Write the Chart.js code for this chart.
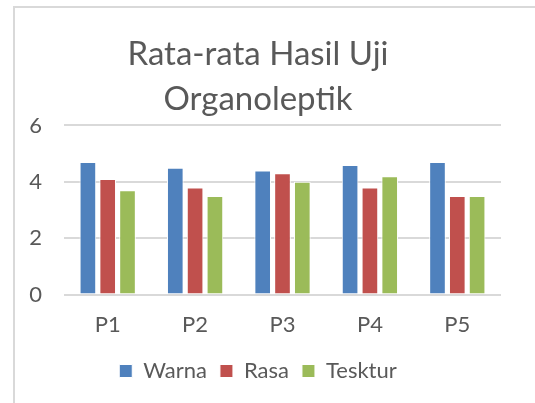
<!DOCTYPE html>
<html>
<head>
<meta charset="utf-8">
<script src="https://cdn.jsdelivr.net/npm/chart.js@4/dist/chart.umd.min.js"></script>
<style>
  html, body { margin: 0; padding: 0; background: #fff; }
  body { width: 535px; height: 403px; position: relative; overflow: hidden; }
  .frame {
    position: absolute; left: 13px; top: 6px; width: 530px; height: 410px;
    border-left: 2px solid #d9d9d9; border-top: 2px solid #d9d9d9;
  }
  .box { position: absolute; left: 15px; top: 8px; width: 520px; height: 395px; }
</style>
</head>
<body>
<div class="frame"></div>
<div class="box"><canvas id="chart"></canvas></div>
<script>
const categories = ['P1', 'P2', 'P3', 'P4', 'P5'];
const warna = [4.7, 4.5, 4.4, 4.6, 4.7];
const rasa = [4.1, 3.8, 4.3, 3.8, 3.5];
const tesktur = [3.7, 3.5, 4.0, 4.2, 3.5];
const yTicks = [0, 2, 4, 6];

const textColor = '#595959';
const fontFamily = 'Lato, "Open Sans", sans-serif';

const ctx = document.getElementById('chart').getContext('2d');

const chart = new Chart(ctx, {
    type: 'bar',
    data: {
        labels: categories,
        datasets: [
            { label: 'Warna', data: warna, backgroundColor: '#4f81bd', borderColor: '#ffffff', borderWidth: 1 },
            { label: 'Rasa', data: rasa, backgroundColor: '#c0504d', borderColor: '#ffffff', borderWidth: 1 },
            { label: 'Tesktur', data: tesktur, backgroundColor: '#9bbb59', borderColor: '#ffffff', borderWidth: 1 },
        ],
    },
    options: {
        responsive: true,
        maintainAspectRatio: false,
        animation: false,
        categoryPercentage: 0.68,
        barPercentage: 0.84,
        layout: { padding: { left: 0, right: 34, top: 0, bottom: 11 } },
        plugins: {
            title: {
                display: true,
                text: ['Rata-rata Hasil Uji', 'Organoleptik'],
                color: textColor,
                font: { family: fontFamily, size: 33, weight: 'normal', lineHeight: 1.37 },
                padding: { top: 24, bottom: 3 },
            },
            legend: {
                position: 'bottom',
                labels: {
                    color: textColor,
                    font: { family: fontFamily, size: 22 },
                    boxWidth: 13,
                    boxHeight: 13,
                    padding: 13,
                },
            },
            tooltip: { enabled: false },
        },
        scales: {
            x: {
                grid: { display: false },
                border: { display: false },
                ticks: { color: textColor, font: { family: fontFamily, size: 22 }, padding: 9 },
            },
            y: {
                min: 0,
                max: 6,
                afterBuildTicks: (axis) => { axis.ticks = yTicks.map(v => ({ value: v })); },
                afterFit: (axis) => { axis.width = 49; },
                grid: { color: '#d9d9d9', lineWidth: 2, drawTicks: false },
                border: { display: false },
                ticks: { color: textColor, font: { family: fontFamily, size: 22 }, padding: 22 },
            },
        },
    },
});
</script>
</body>
</html>
